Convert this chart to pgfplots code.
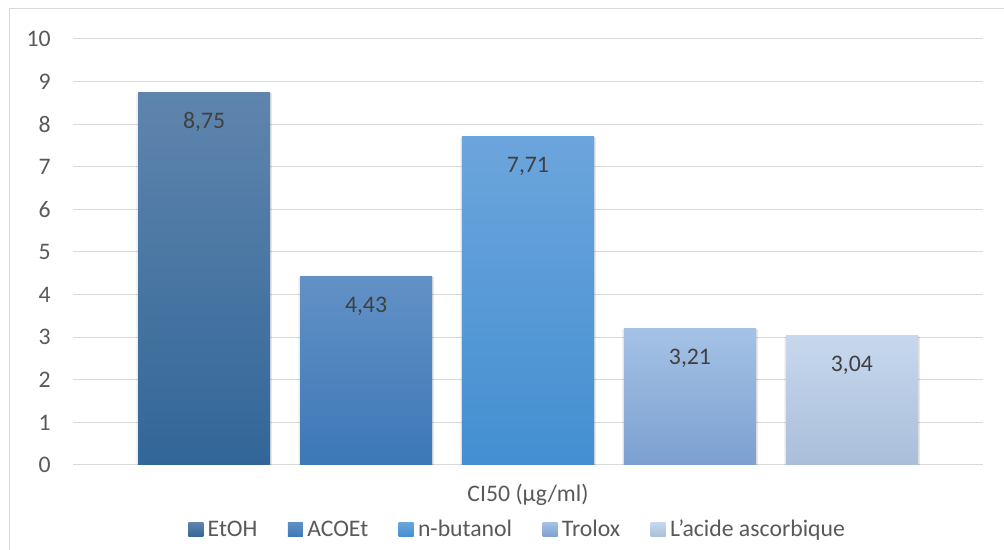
\documentclass[border=0pt]{standalone}
\usepackage{fontspec}
\setmainfont{Carlito}
\usepackage{pgfplots}
\pgfplotsset{compat=1.18}

\definecolor{gridgray}{RGB}{217,217,217}
\definecolor{ticktext}{RGB}{89,89,89}
\definecolor{labeltext}{RGB}{64,64,64}
% top / bottom colours of each gradient bar
\definecolor{etohT}{RGB}{95,133,173}   \definecolor{etohB}{RGB}{50,102,152}
\definecolor{acoT}{RGB}{98,145,198}    \definecolor{acoB}{RGB}{60,120,182}
\definecolor{butT}{RGB}{108,165,220}   \definecolor{butB}{RGB}{67,143,209}
\definecolor{troT}{RGB}{165,194,230}   \definecolor{troB}{RGB}{124,160,208}
\definecolor{ascT}{RGB}{199,216,238}   \definecolor{ascB}{RGB}{170,190,218}

\newcommand{\chartfont}{\fontsize{17.8}{21}\selectfont}

\pgfkeys{/pgf/number format/.cd, assume math mode=true}

\pgfplotstableread{
x  y
0  8.75
1  4.43
2  7.71
3  3.21
4  3.04
}\cidata

\begin{document}
\begin{tikzpicture}
% page frame: 1004 x 550 px at 0.75pt per px
\path[use as bounding box] (0,0) rectangle (753pt,412.5pt);
\draw[gridgray, line width=0.75pt] (6.75pt,-5pt) -- (6.75pt,405.75pt) -- (770pt,405.75pt);

\begin{axis}[
  at={(54.75pt,63.75pt)}, anchor=south west,
  scale only axis, width=682.5pt, height=319.5pt,
  xmin=-0.809, xmax=4.809, ymin=0, ymax=10,
  ytick={0,1,...,10}, xtick=\empty,
  ymajorgrids, major grid style={draw=gridgray, line width=0.75pt},
  axis line style={draw=none},
  major tick length=0pt,
  yticklabel style={font=\chartfont, text=ticktext, anchor=east, inner xsep=0pt, xshift=-16.5pt},
  ybar, bar width=0.815, bar shift=0pt,
  every axis plot/.append style={draw=none},
  legend columns=-1,
  legend style={at={(0.1264,-0.1514)}, anchor=west, draw=none, fill=none,
    inner sep=0pt, font=\chartfont, text=ticktext,
    nodes={inner sep=0pt},
    /tikz/every odd column/.append style={column sep=3.3pt},
    /tikz/every even column/.append style={column sep=22.8pt}},
  legend image code/.code={\path[#1] (0pt,-5.6pt) rectangle (11.25pt,5.6pt);},
  shadowbar/.style={forget plot, fill=black, fill opacity=0.07, bar width=0.835},
  valuebar/.style={
    nodes near coords={\pgfmathprintnumber[use comma,fixed,fixed zerofill,precision=2]{\pgfplotspointmeta}},
    every node near coord/.append style={anchor=base, yshift=-27pt, font=\chartfont, text=labeltext}},
]
% soft shadow behind the bars
\addplot[shadowbar, yshift=-0.8pt] table[x=x,y=y] {\cidata};
\addplot[shadowbar, bar width=0.825, xshift=0.6pt, yshift=-0.4pt] table[x=x,y=y] {\cidata};

\addplot[valuebar, top color=etohT, bottom color=etohB] coordinates {(0,8.75)};
\addplot[valuebar, top color=acoT, bottom color=acoB] coordinates {(1,4.43)};
\addplot[valuebar, top color=butT, bottom color=butB] coordinates {(2,7.71)};
\addplot[valuebar, top color=troT, bottom color=troB] coordinates {(3,3.21)};
\addplot[valuebar, top color=ascT, bottom color=ascB] coordinates {(4,3.04)};
\legend{EtOH, ACOEt, n-butanol, Trolox, L’acide ascorbique}
\end{axis}

\node[font=\chartfont, text=ticktext] at (396pt,41pt) {CI50 (µg/ml)};
\end{tikzpicture}
\end{document}
